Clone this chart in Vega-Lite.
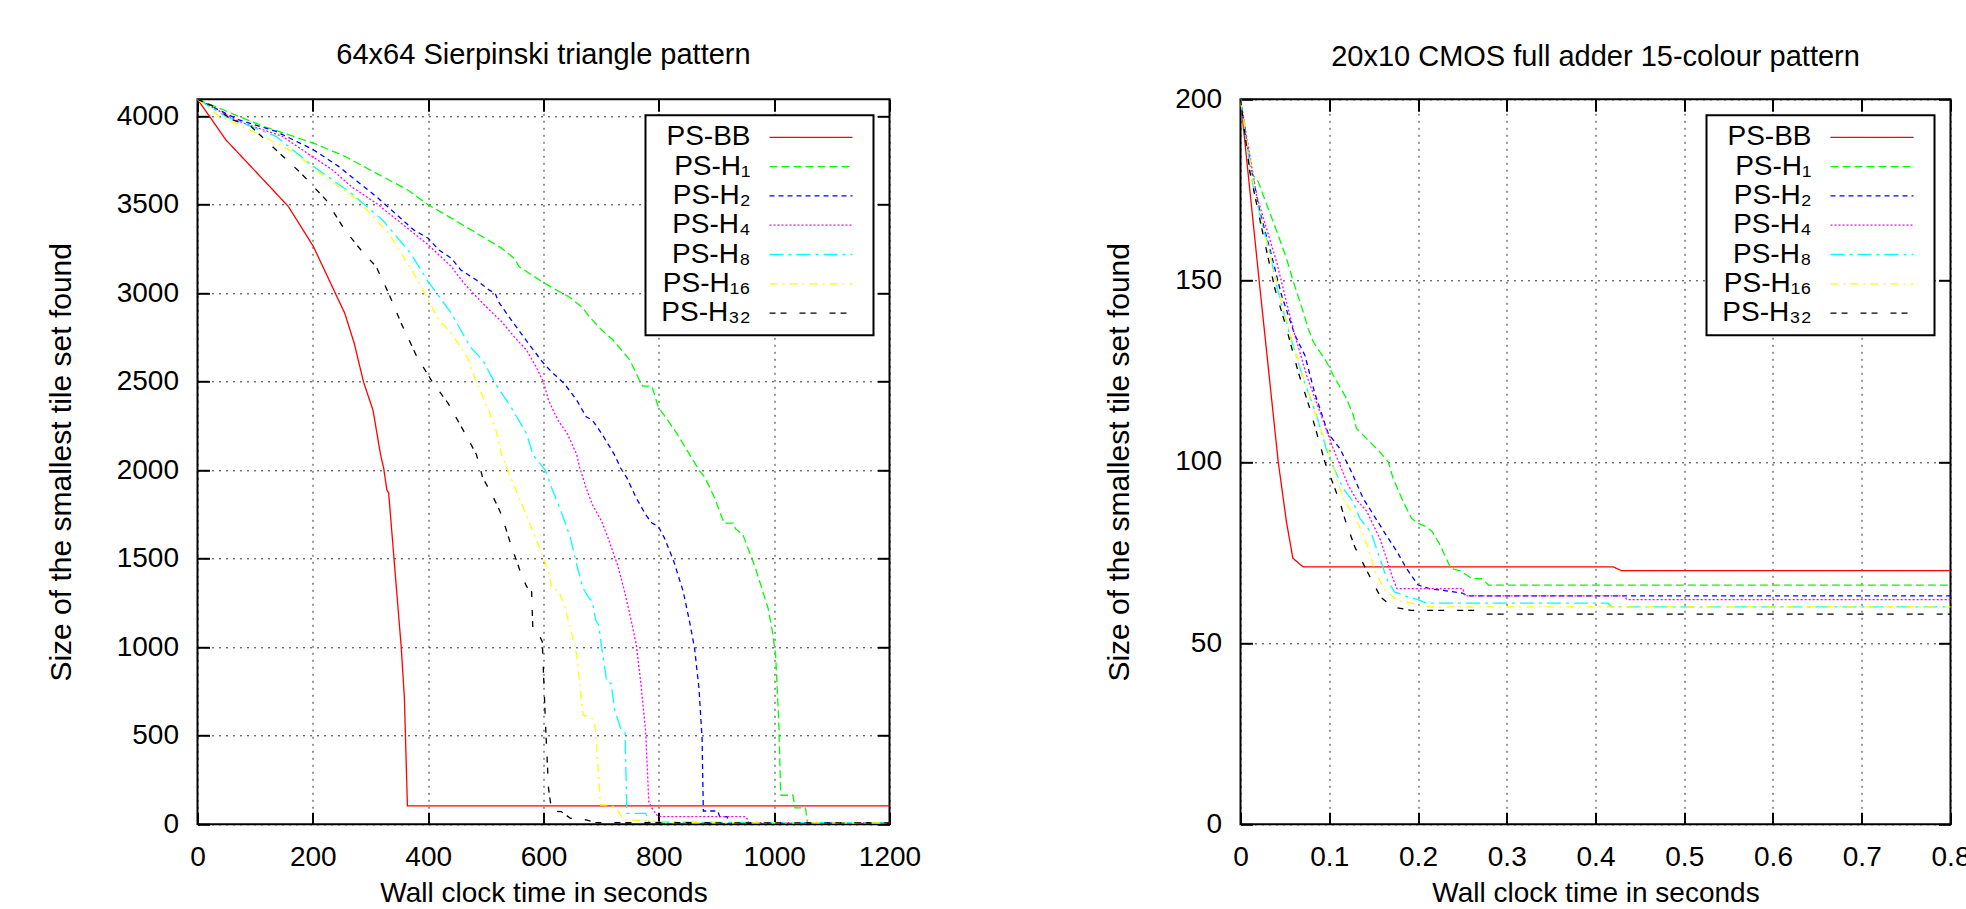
{
  "$schema": "https://vega.github.io/schema/vega-lite/v6.json",
  "autosize": {"type": "none"},
  "padding": {"left": 197.5, "top": 99.3, "right": 1768.5, "bottom": 809.7},
  "background": "white",
  "bounds": "flush",
  "spacing": 351,
  "config": {
    "font": "Liberation Sans",
    "view": {"stroke": "black", "strokeWidth": 2},
    "title": {"fontSize": 29, "fontWeight": "normal", "color": "black", "offset": 27, "anchor": "middle", "font": "Liberation Sans"},
    "axis": {
      "labelFont": "Liberation Sans", "labelFontSize": 28, "labelColor": "black",
      "titleFont": "Liberation Sans", "titleFontSize": 28, "titleFontWeight": "normal", "titleColor": "black",
      "tickColor": "black", "tickWidth": 2, "tickSize": -12, "labelPadding": 31,
      "domain": false,
      "gridColor": "black", "gridDash": [2, 5], "gridWidth": 1, "gridOpacity": 0.8,
      "labelFlush": false, "labelOverlap": false
    },
    "legend": {
      "orient": "top-right", "offset": 16, "title": null,
      "fillColor": "white", "strokeColor": "black", "strokeWidth": 2,
      "padding": 8, "labelAlign": "right", "labelOffset": -74.5, "symbolOffset": 143.5,
      "symbolType": "M-4,0H4M5,0", "symbolSize": 430, "symbolStrokeWidth": 2,
      "rowPadding": 1.3,
      "labelFont": "Liberation Sans", "labelFontSize": 28, "labelColor": "black", "labelLimit": 300
    },
    "line": {"strokeWidth": 1.3}
  },
  "resolve": {
    "scale": {"color": "independent", "strokeDash": "independent"},
    "legend": {"color": "independent", "strokeDash": "independent"}
  },
  "datasets": {
    "left": [
      {"s": "PS-BB", "t": 0, "v": 4096}, {"s": "PS-BB", "t": 24, "v": 3985}, {"s": "PS-BB", "t": 48.9, "v": 3868}, {"s": "PS-BB", "t": 92.4, "v": 3717}, {"s": "PS-BB", "t": 125, "v": 3604}, {"s": "PS-BB", "t": 157.6, "v": 3490}, {"s": "PS-BB", "t": 179.4, "v": 3377}, {"s": "PS-BB", "t": 201, "v": 3264}, {"s": "PS-BB", "t": 222.8, "v": 3113}, {"s": "PS-BB", "t": 239, "v": 3000}, {"s": "PS-BB", "t": 255.4, "v": 2887}, {"s": "PS-BB", "t": 271.8, "v": 2717}, {"s": "PS-BB", "t": 288, "v": 2498}, {"s": "PS-BB", "t": 304.4, "v": 2339}, {"s": "PS-BB", "t": 317.4, "v": 2089}, {"s": "PS-BB", "t": 322.8, "v": 2013}, {"s": "PS-BB", "t": 328.3, "v": 1890}, {"s": "PS-BB", "t": 331.5, "v": 1872}, {"s": "PS-BB", "t": 340.2, "v": 1523}, {"s": "PS-BB", "t": 353.3, "v": 1000}, {"s": "PS-BB", "t": 358.8, "v": 711}, {"s": "PS-BB", "t": 364, "v": 104}, {"s": "PS-BB", "t": 1200, "v": 104},
      {"s": "PS-H₁", "t": 0, "v": 4096}, {"s": "PS-H₁", "t": 114, "v": 3943}, {"s": "PS-H₁", "t": 201, "v": 3849}, {"s": "PS-H₁", "t": 255.4, "v": 3774}, {"s": "PS-H₁", "t": 309.8, "v": 3679}, {"s": "PS-H₁", "t": 364, "v": 3585}, {"s": "PS-H₁", "t": 400, "v": 3500}, {"s": "PS-H₁", "t": 440.2, "v": 3425}, {"s": "PS-H₁", "t": 483.7, "v": 3340}, {"s": "PS-H₁", "t": 527.2, "v": 3255}, {"s": "PS-H₁", "t": 549, "v": 3198}, {"s": "PS-H₁", "t": 557.6, "v": 3151}, {"s": "PS-H₁", "t": 600, "v": 3060}, {"s": "PS-H₁", "t": 614, "v": 3034}, {"s": "PS-H₁", "t": 646.8, "v": 2975}, {"s": "PS-H₁", "t": 668.5, "v": 2915}, {"s": "PS-H₁", "t": 679.4, "v": 2868}, {"s": "PS-H₁", "t": 701, "v": 2792}, {"s": "PS-H₁", "t": 720.7, "v": 2736}, {"s": "PS-H₁", "t": 750, "v": 2622}, {"s": "PS-H₁", "t": 766.3, "v": 2509}, {"s": "PS-H₁", "t": 771.8, "v": 2475}, {"s": "PS-H₁", "t": 788, "v": 2475}, {"s": "PS-H₁", "t": 799, "v": 2358}, {"s": "PS-H₁", "t": 815.3, "v": 2283}, {"s": "PS-H₁", "t": 831.6, "v": 2207}, {"s": "PS-H₁", "t": 853.3, "v": 2089}, {"s": "PS-H₁", "t": 864, "v": 2032}, {"s": "PS-H₁", "t": 869.6, "v": 2000}, {"s": "PS-H₁", "t": 880.5, "v": 1957}, {"s": "PS-H₁", "t": 896.8, "v": 1843}, {"s": "PS-H₁", "t": 913, "v": 1702}, {"s": "PS-H₁", "t": 929.5, "v": 1702}, {"s": "PS-H₁", "t": 932.8, "v": 1670}, {"s": "PS-H₁", "t": 945.8, "v": 1636}, {"s": "PS-H₁", "t": 956.7, "v": 1541}, {"s": "PS-H₁", "t": 967.6, "v": 1447}, {"s": "PS-H₁", "t": 978.5, "v": 1334}, {"s": "PS-H₁", "t": 989.4, "v": 1221}, {"s": "PS-H₁", "t": 997, "v": 1089}, {"s": "PS-H₁", "t": 1002.5, "v": 957}, {"s": "PS-H₁", "t": 1008, "v": 579}, {"s": "PS-H₁", "t": 1011, "v": 202}, {"s": "PS-H₁", "t": 1012, "v": 164}, {"s": "PS-H₁", "t": 1032.6, "v": 164}, {"s": "PS-H₁", "t": 1036, "v": 93}, {"s": "PS-H₁", "t": 1054.4, "v": 93}, {"s": "PS-H₁", "t": 1057.6, "v": 9}, {"s": "PS-H₁", "t": 1200, "v": 9},
      {"s": "PS-H₂", "t": 0, "v": 4096}, {"s": "PS-H₂", "t": 70.7, "v": 3981}, {"s": "PS-H₂", "t": 135.9, "v": 3915}, {"s": "PS-H₂", "t": 201, "v": 3811}, {"s": "PS-H₂", "t": 244.6, "v": 3717}, {"s": "PS-H₂", "t": 277.2, "v": 3632}, {"s": "PS-H₂", "t": 309.8, "v": 3547}, {"s": "PS-H₂", "t": 342.4, "v": 3453}, {"s": "PS-H₂", "t": 375, "v": 3358}, {"s": "PS-H₂", "t": 400, "v": 3311}, {"s": "PS-H₂", "t": 418.5, "v": 3245}, {"s": "PS-H₂", "t": 440.2, "v": 3198}, {"s": "PS-H₂", "t": 456.5, "v": 3132}, {"s": "PS-H₂", "t": 483.7, "v": 3075}, {"s": "PS-H₂", "t": 505.5, "v": 3019}, {"s": "PS-H₂", "t": 516.3, "v": 3000}, {"s": "PS-H₂", "t": 521.8, "v": 2953}, {"s": "PS-H₂", "t": 538, "v": 2877}, {"s": "PS-H₂", "t": 565.2, "v": 2755}, {"s": "PS-H₂", "t": 597.9, "v": 2613}, {"s": "PS-H₂", "t": 614, "v": 2556}, {"s": "PS-H₂", "t": 636, "v": 2490}, {"s": "PS-H₂", "t": 657.6, "v": 2396}, {"s": "PS-H₂", "t": 674, "v": 2302}, {"s": "PS-H₂", "t": 684.8, "v": 2283}, {"s": "PS-H₂", "t": 701, "v": 2207}, {"s": "PS-H₂", "t": 722.9, "v": 2089}, {"s": "PS-H₂", "t": 733.7, "v": 2013}, {"s": "PS-H₂", "t": 744.6, "v": 1957}, {"s": "PS-H₂", "t": 760.9, "v": 1843}, {"s": "PS-H₂", "t": 777.2, "v": 1749}, {"s": "PS-H₂", "t": 788, "v": 1702}, {"s": "PS-H₂", "t": 799, "v": 1683}, {"s": "PS-H₂", "t": 809.8, "v": 1617}, {"s": "PS-H₂", "t": 826, "v": 1485}, {"s": "PS-H₂", "t": 842.3, "v": 1315}, {"s": "PS-H₂", "t": 853.3, "v": 1145}, {"s": "PS-H₂", "t": 862, "v": 994}, {"s": "PS-H₂", "t": 869.6, "v": 768}, {"s": "PS-H₂", "t": 875, "v": 485}, {"s": "PS-H₂", "t": 877.2, "v": 75}, {"s": "PS-H₂", "t": 902.2, "v": 75}, {"s": "PS-H₂", "t": 905.5, "v": 43}, {"s": "PS-H₂", "t": 918.5, "v": 43}, {"s": "PS-H₂", "t": 920.7, "v": 8}, {"s": "PS-H₂", "t": 1200, "v": 8},
      {"s": "PS-H₄", "t": 0, "v": 4096}, {"s": "PS-H₄", "t": 70.7, "v": 3972}, {"s": "PS-H₄", "t": 146.7, "v": 3887}, {"s": "PS-H₄", "t": 190.2, "v": 3792}, {"s": "PS-H₄", "t": 233.7, "v": 3698}, {"s": "PS-H₄", "t": 266.3, "v": 3604}, {"s": "PS-H₄", "t": 309.8, "v": 3509}, {"s": "PS-H₄", "t": 353.3, "v": 3396}, {"s": "PS-H₄", "t": 400, "v": 3274}, {"s": "PS-H₄", "t": 440.2, "v": 3151}, {"s": "PS-H₄", "t": 462, "v": 3057}, {"s": "PS-H₄", "t": 494.6, "v": 2943}, {"s": "PS-H₄", "t": 527.2, "v": 2840}, {"s": "PS-H₄", "t": 549, "v": 2755}, {"s": "PS-H₄", "t": 570.7, "v": 2679}, {"s": "PS-H₄", "t": 587, "v": 2585}, {"s": "PS-H₄", "t": 600, "v": 2498}, {"s": "PS-H₄", "t": 608.7, "v": 2396}, {"s": "PS-H₄", "t": 625, "v": 2283}, {"s": "PS-H₄", "t": 641.3, "v": 2207}, {"s": "PS-H₄", "t": 657.6, "v": 2089}, {"s": "PS-H₄", "t": 663, "v": 2013}, {"s": "PS-H₄", "t": 674, "v": 1900}, {"s": "PS-H₄", "t": 684.8, "v": 1806}, {"s": "PS-H₄", "t": 701, "v": 1711}, {"s": "PS-H₄", "t": 712, "v": 1617}, {"s": "PS-H₄", "t": 728.3, "v": 1466}, {"s": "PS-H₄", "t": 739.2, "v": 1334}, {"s": "PS-H₄", "t": 750, "v": 1183}, {"s": "PS-H₄", "t": 761, "v": 1013}, {"s": "PS-H₄", "t": 768.5, "v": 806}, {"s": "PS-H₄", "t": 777.2, "v": 522}, {"s": "PS-H₄", "t": 782.6, "v": 128}, {"s": "PS-H₄", "t": 788, "v": 91}, {"s": "PS-H₄", "t": 799, "v": 43}, {"s": "PS-H₄", "t": 951.1, "v": 43}, {"s": "PS-H₄", "t": 956.5, "v": 9}, {"s": "PS-H₄", "t": 1200, "v": 9},
      {"s": "PS-H₈", "t": 0, "v": 4096}, {"s": "PS-H₈", "t": 48.9, "v": 4000}, {"s": "PS-H₈", "t": 135.9, "v": 3887}, {"s": "PS-H₈", "t": 201, "v": 3717}, {"s": "PS-H₈", "t": 266.3, "v": 3566}, {"s": "PS-H₈", "t": 320.7, "v": 3415}, {"s": "PS-H₈", "t": 369.6, "v": 3226}, {"s": "PS-H₈", "t": 400, "v": 3066}, {"s": "PS-H₈", "t": 440.2, "v": 2887}, {"s": "PS-H₈", "t": 472.8, "v": 2698}, {"s": "PS-H₈", "t": 494.6, "v": 2622}, {"s": "PS-H₈", "t": 516.3, "v": 2490}, {"s": "PS-H₈", "t": 543.5, "v": 2358}, {"s": "PS-H₈", "t": 570.7, "v": 2207}, {"s": "PS-H₈", "t": 581.5, "v": 2089}, {"s": "PS-H₈", "t": 603.3, "v": 2000}, {"s": "PS-H₈", "t": 614.2, "v": 1900}, {"s": "PS-H₈", "t": 630.5, "v": 1768}, {"s": "PS-H₈", "t": 646.8, "v": 1617}, {"s": "PS-H₈", "t": 657.6, "v": 1466}, {"s": "PS-H₈", "t": 668.5, "v": 1334}, {"s": "PS-H₈", "t": 679.4, "v": 1277}, {"s": "PS-H₈", "t": 684.8, "v": 1258}, {"s": "PS-H₈", "t": 690.2, "v": 1155}, {"s": "PS-H₈", "t": 695.7, "v": 1126}, {"s": "PS-H₈", "t": 701, "v": 994}, {"s": "PS-H₈", "t": 709.8, "v": 806}, {"s": "PS-H₈", "t": 717.4, "v": 796}, {"s": "PS-H₈", "t": 722.9, "v": 655}, {"s": "PS-H₈", "t": 733.7, "v": 541}, {"s": "PS-H₈", "t": 741.3, "v": 522}, {"s": "PS-H₈", "t": 744.6, "v": 62}, {"s": "PS-H₈", "t": 777.2, "v": 62}, {"s": "PS-H₈", "t": 782.6, "v": 12}, {"s": "PS-H₈", "t": 1200, "v": 8},
      {"s": "PS-H₁₆", "t": 0, "v": 4096}, {"s": "PS-H₁₆", "t": 38, "v": 4000}, {"s": "PS-H₁₆", "t": 114.1, "v": 3887}, {"s": "PS-H₁₆", "t": 168.5, "v": 3792}, {"s": "PS-H₁₆", "t": 212, "v": 3679}, {"s": "PS-H₁₆", "t": 277.2, "v": 3528}, {"s": "PS-H₁₆", "t": 331.5, "v": 3340}, {"s": "PS-H₁₆", "t": 375, "v": 3113}, {"s": "PS-H₁₆", "t": 400, "v": 2962}, {"s": "PS-H₁₆", "t": 418.5, "v": 2849}, {"s": "PS-H₁₆", "t": 440.2, "v": 2773}, {"s": "PS-H₁₆", "t": 467.4, "v": 2641}, {"s": "PS-H₁₆", "t": 483.7, "v": 2498}, {"s": "PS-H₁₆", "t": 500, "v": 2377}, {"s": "PS-H₁₆", "t": 516.3, "v": 2245}, {"s": "PS-H₁₆", "t": 527.2, "v": 2089}, {"s": "PS-H₁₆", "t": 543.5, "v": 1957}, {"s": "PS-H₁₆", "t": 565.2, "v": 1787}, {"s": "PS-H₁₆", "t": 581.5, "v": 1655}, {"s": "PS-H₁₆", "t": 597.9, "v": 1523}, {"s": "PS-H₁₆", "t": 608.7, "v": 1428}, {"s": "PS-H₁₆", "t": 614.2, "v": 1334}, {"s": "PS-H₁₆", "t": 625, "v": 1324}, {"s": "PS-H₁₆", "t": 635.9, "v": 1240}, {"s": "PS-H₁₆", "t": 646.8, "v": 1107}, {"s": "PS-H₁₆", "t": 657.6, "v": 957}, {"s": "PS-H₁₆", "t": 668.5, "v": 617}, {"s": "PS-H₁₆", "t": 684.8, "v": 598}, {"s": "PS-H₁₆", "t": 690.2, "v": 541}, {"s": "PS-H₁₆", "t": 698.9, "v": 109}, {"s": "PS-H₁₆", "t": 717.4, "v": 109}, {"s": "PS-H₁₆", "t": 728.3, "v": 81}, {"s": "PS-H₁₆", "t": 739.2, "v": 25}, {"s": "PS-H₁₆", "t": 788, "v": 19}, {"s": "PS-H₁₆", "t": 799, "v": 9}, {"s": "PS-H₁₆", "t": 1200, "v": 8},
      {"s": "PS-H₃₂", "t": 0, "v": 4096}, {"s": "PS-H₃₂", "t": 27.2, "v": 4057}, {"s": "PS-H₃₂", "t": 59.8, "v": 3981}, {"s": "PS-H₃₂", "t": 92.4, "v": 3943}, {"s": "PS-H₃₂", "t": 135.9, "v": 3811}, {"s": "PS-H₃₂", "t": 179.4, "v": 3679}, {"s": "PS-H₃₂", "t": 222.8, "v": 3528}, {"s": "PS-H₃₂", "t": 255.4, "v": 3358}, {"s": "PS-H₃₂", "t": 288, "v": 3226}, {"s": "PS-H₃₂", "t": 309.8, "v": 3151}, {"s": "PS-H₃₂", "t": 331.5, "v": 3000}, {"s": "PS-H₃₂", "t": 353.3, "v": 2830}, {"s": "PS-H₃₂", "t": 380.5, "v": 2641}, {"s": "PS-H₃₂", "t": 407.6, "v": 2498}, {"s": "PS-H₃₂", "t": 434.8, "v": 2377}, {"s": "PS-H₃₂", "t": 467.4, "v": 2188}, {"s": "PS-H₃₂", "t": 483.7, "v": 2089}, {"s": "PS-H₃₂", "t": 494.6, "v": 1957}, {"s": "PS-H₃₂", "t": 510.9, "v": 1862}, {"s": "PS-H₃₂", "t": 527.2, "v": 1749}, {"s": "PS-H₃₂", "t": 543.5, "v": 1579}, {"s": "PS-H₃₂", "t": 559.8, "v": 1428}, {"s": "PS-H₃₂", "t": 570.7, "v": 1343}, {"s": "PS-H₃₂", "t": 579.4, "v": 1315}, {"s": "PS-H₃₂", "t": 581.5, "v": 1107}, {"s": "PS-H₃₂", "t": 592.4, "v": 1070}, {"s": "PS-H₃₂", "t": 597.9, "v": 1032}, {"s": "PS-H₃₂", "t": 603.3, "v": 579}, {"s": "PS-H₃₂", "t": 608.7, "v": 204}, {"s": "PS-H₃₂", "t": 614.2, "v": 75}, {"s": "PS-H₃₂", "t": 630.5, "v": 72}, {"s": "PS-H₃₂", "t": 646.8, "v": 34}, {"s": "PS-H₃₂", "t": 674, "v": 25}, {"s": "PS-H₃₂", "t": 690.2, "v": 9}, {"s": "PS-H₃₂", "t": 1200, "v": 8}
    ],
    "right": [
      {"s": "PS-BB", "t": 0, "v": 200}, {"s": "PS-BB", "t": 0.021, "v": 150}, {"s": "PS-BB", "t": 0.0425, "v": 100}, {"s": "PS-BB", "t": 0.0518, "v": 83.4}, {"s": "PS-BB", "t": 0.059, "v": 73.4}, {"s": "PS-BB", "t": 0.0706, "v": 71}, {"s": "PS-BB", "t": 0.42, "v": 71}, {"s": "PS-BB", "t": 0.429, "v": 70}, {"s": "PS-BB", "t": 0.8, "v": 70},
      {"s": "PS-H₁", "t": 0, "v": 200}, {"s": "PS-H₁", "t": 0.0124, "v": 179.6}, {"s": "PS-H₁", "t": 0.0199, "v": 177.3}, {"s": "PS-H₁", "t": 0.0312, "v": 169.9}, {"s": "PS-H₁", "t": 0.0425, "v": 162.5}, {"s": "PS-H₁", "t": 0.0518, "v": 156.1}, {"s": "PS-H₁", "t": 0.0593, "v": 149.9}, {"s": "PS-H₁", "t": 0.0706, "v": 141.4}, {"s": "PS-H₁", "t": 0.0762, "v": 136.8}, {"s": "PS-H₁", "t": 0.0819, "v": 133.1}, {"s": "PS-H₁", "t": 0.0969, "v": 127.6}, {"s": "PS-H₁", "t": 0.1044, "v": 123.9}, {"s": "PS-H₁", "t": 0.1194, "v": 117.5}, {"s": "PS-H₁", "t": 0.127, "v": 112.9}, {"s": "PS-H₁", "t": 0.1307, "v": 109.2}, {"s": "PS-H₁", "t": 0.1457, "v": 105.5}, {"s": "PS-H₁", "t": 0.157, "v": 102.7}, {"s": "PS-H₁", "t": 0.1664, "v": 100}, {"s": "PS-H₁", "t": 0.172, "v": 95.4}, {"s": "PS-H₁", "t": 0.1833, "v": 89}, {"s": "PS-H₁", "t": 0.1927, "v": 84.4}, {"s": "PS-H₁", "t": 0.2002, "v": 83}, {"s": "PS-H₁", "t": 0.2096, "v": 82.1}, {"s": "PS-H₁", "t": 0.216, "v": 80.7}, {"s": "PS-H₁", "t": 0.2239, "v": 77.5}, {"s": "PS-H₁", "t": 0.237, "v": 70.6}, {"s": "PS-H₁", "t": 0.2477, "v": 69.9}, {"s": "PS-H₁", "t": 0.2608, "v": 67.8}, {"s": "PS-H₁", "t": 0.2715, "v": 67.8}, {"s": "PS-H₁", "t": 0.2795, "v": 66}, {"s": "PS-H₁", "t": 0.8, "v": 66},
      {"s": "PS-H₂", "t": 0, "v": 200}, {"s": "PS-H₂", "t": 0.0105, "v": 182.8}, {"s": "PS-H₂", "t": 0.0218, "v": 169}, {"s": "PS-H₂", "t": 0.0349, "v": 157}, {"s": "PS-H₂", "t": 0.0462, "v": 146}, {"s": "PS-H₂", "t": 0.0612, "v": 135}, {"s": "PS-H₂", "t": 0.0725, "v": 129.4}, {"s": "PS-H₂", "t": 0.0837, "v": 118.9}, {"s": "PS-H₂", "t": 0.0988, "v": 107.8}, {"s": "PS-H₂", "t": 0.1119, "v": 103.7}, {"s": "PS-H₂", "t": 0.1251, "v": 97.2}, {"s": "PS-H₂", "t": 0.1382, "v": 89.9}, {"s": "PS-H₂", "t": 0.147, "v": 86.5}, {"s": "PS-H₂", "t": 0.163, "v": 80.2}, {"s": "PS-H₂", "t": 0.1763, "v": 75.2}, {"s": "PS-H₂", "t": 0.187, "v": 70.6}, {"s": "PS-H₂", "t": 0.2, "v": 66}, {"s": "PS-H₂", "t": 0.213, "v": 65}, {"s": "PS-H₂", "t": 0.25, "v": 63.8}, {"s": "PS-H₂", "t": 0.2557, "v": 63}, {"s": "PS-H₂", "t": 0.8, "v": 63},
      {"s": "PS-H₄", "t": 0, "v": 200}, {"s": "PS-H₄", "t": 0.018, "v": 173.6}, {"s": "PS-H₄", "t": 0.0406, "v": 155.2}, {"s": "PS-H₄", "t": 0.0518, "v": 144.1}, {"s": "PS-H₄", "t": 0.0612, "v": 135}, {"s": "PS-H₄", "t": 0.0744, "v": 123.9}, {"s": "PS-H₄", "t": 0.0894, "v": 113.8}, {"s": "PS-H₄", "t": 0.1044, "v": 103.7}, {"s": "PS-H₄", "t": 0.1213, "v": 93.6}, {"s": "PS-H₄", "t": 0.131, "v": 89.4}, {"s": "PS-H₄", "t": 0.142, "v": 86.5}, {"s": "PS-H₄", "t": 0.1578, "v": 78.4}, {"s": "PS-H₄", "t": 0.171, "v": 68.3}, {"s": "PS-H₄", "t": 0.1763, "v": 65}, {"s": "PS-H₄", "t": 0.2505, "v": 65}, {"s": "PS-H₄", "t": 0.2533, "v": 63}, {"s": "PS-H₄", "t": 0.4327, "v": 63}, {"s": "PS-H₄", "t": 0.4355, "v": 62}, {"s": "PS-H₄", "t": 0.8, "v": 62},
      {"s": "PS-H₈", "t": 0, "v": 200}, {"s": "PS-H₈", "t": 0.0124, "v": 178.2}, {"s": "PS-H₈", "t": 0.0237, "v": 166.2}, {"s": "PS-H₈", "t": 0.033, "v": 157.9}, {"s": "PS-H₈", "t": 0.0406, "v": 148.7}, {"s": "PS-H₈", "t": 0.0556, "v": 135}, {"s": "PS-H₈", "t": 0.0706, "v": 123}, {"s": "PS-H₈", "t": 0.0856, "v": 112.9}, {"s": "PS-H₈", "t": 0.0988, "v": 101.8}, {"s": "PS-H₈", "t": 0.1157, "v": 92.6}, {"s": "PS-H₈", "t": 0.126, "v": 89.4}, {"s": "PS-H₈", "t": 0.1345, "v": 84.4}, {"s": "PS-H₈", "t": 0.147, "v": 80.5}, {"s": "PS-H₈", "t": 0.1656, "v": 67.3}, {"s": "PS-H₈", "t": 0.1735, "v": 64.1}, {"s": "PS-H₈", "t": 0.1895, "v": 62.7}, {"s": "PS-H₈", "t": 0.2001, "v": 62}, {"s": "PS-H₈", "t": 0.2096, "v": 61}, {"s": "PS-H₈", "t": 0.414, "v": 61}, {"s": "PS-H₈", "t": 0.418, "v": 60}, {"s": "PS-H₈", "t": 0.8, "v": 60},
      {"s": "PS-H₁₆", "t": 0, "v": 200}, {"s": "PS-H₁₆", "t": 0.018, "v": 171.7}, {"s": "PS-H₁₆", "t": 0.0368, "v": 153.4}, {"s": "PS-H₁₆", "t": 0.0518, "v": 138.6}, {"s": "PS-H₁₆", "t": 0.0687, "v": 124.8}, {"s": "PS-H₁₆", "t": 0.0837, "v": 113.8}, {"s": "PS-H₁₆", "t": 0.1006, "v": 101.8}, {"s": "PS-H₁₆", "t": 0.1157, "v": 89.9}, {"s": "PS-H₁₆", "t": 0.131, "v": 83.9}, {"s": "PS-H₁₆", "t": 0.142, "v": 77.5}, {"s": "PS-H₁₆", "t": 0.1526, "v": 69.2}, {"s": "PS-H₁₆", "t": 0.163, "v": 64.6}, {"s": "PS-H₁₆", "t": 0.1763, "v": 61.8}, {"s": "PS-H₁₆", "t": 0.1948, "v": 60.9}, {"s": "PS-H₁₆", "t": 0.2054, "v": 60}, {"s": "PS-H₁₆", "t": 0.8, "v": 60},
      {"s": "PS-H₃₂", "t": 0, "v": 200}, {"s": "PS-H₃₂", "t": 0.0105, "v": 180}, {"s": "PS-H₃₂", "t": 0.0256, "v": 162.5}, {"s": "PS-H₃₂", "t": 0.0387, "v": 147.8}, {"s": "PS-H₃₂", "t": 0.0518, "v": 136.8}, {"s": "PS-H₃₂", "t": 0.065, "v": 124.8}, {"s": "PS-H₃₂", "t": 0.0781, "v": 114.7}, {"s": "PS-H₃₂", "t": 0.095, "v": 100}, {"s": "PS-H₃₂", "t": 0.1119, "v": 89}, {"s": "PS-H₃₂", "t": 0.118, "v": 83.9}, {"s": "PS-H₃₂", "t": 0.1288, "v": 76.5}, {"s": "PS-H₃₂", "t": 0.142, "v": 70.1}, {"s": "PS-H₃₂", "t": 0.1578, "v": 62.7}, {"s": "PS-H₃₂", "t": 0.171, "v": 60}, {"s": "PS-H₃₂", "t": 0.192, "v": 59}, {"s": "PS-H₃₂", "t": 0.2636, "v": 59}, {"s": "PS-H₃₂", "t": 0.277, "v": 58}, {"s": "PS-H₃₂", "t": 0.8, "v": 58}
    ]
  },
  "hconcat": [
    {
      "width": 692, "height": 725,
      "title": {"text": "64x64 Sierpinski triangle pattern", "offset": 27},
      "data": {"name": "left"},
      "resolve": {"axis": {"x": "independent", "y": "independent"}},
      "layer": [
        {
          "mark": {"type": "line", "strokeWidth": 1.3},
          "encoding": {
            "x": {"field": "t", "type": "quantitative", "scale": {"domain": [0, 1200], "nice": false},
                  "axis": {"orient": "bottom", "grid": true, "format": "d", "values": [0, 200, 400, 600, 800, 1000, 1200], "title": "Wall clock time in seconds", "titlePadding": 8}},
            "y": {"field": "v", "type": "quantitative", "scale": {"domain": [0, 4096], "nice": false},
                  "axis": {"orient": "left", "grid": true, "format": "d", "values": [0, 500, 1000, 1500, 2000, 2500, 3000, 3500, 4000], "title": "Size of the smallest tile set found", "titleFontSize": 30, "titlePadding": 40}},
            "color": {"field": "s", "type": "nominal",
                      "scale": {"domain": ["PS-BB", "PS-H₁", "PS-H₂", "PS-H₄", "PS-H₈", "PS-H₁₆", "PS-H₃₂"], "range": ["#ff0000", "#00ff00", "#0000ff", "#ff00ff", "#00ffff", "#ffff00", "#000000"]},
                      "legend": {"symbolType": "M-4,0H4M5,0", "symbolSize": 430, "symbolStrokeWidth": 2, "symbolOffset": 143.5, "labelOffset": -74.5, "labelAlign": "right", "rowPadding": 1.3, "padding": 8}},
            "strokeDash": {"field": "s", "type": "nominal",
                      "scale": {"domain": ["PS-BB", "PS-H₁", "PS-H₂", "PS-H₄", "PS-H₈", "PS-H₁₆", "PS-H₃₂"], "range": [[1, 0], [8, 4], [5, 4], [2, 2], [14, 5, 3, 5], [8, 5, 2, 5], [6, 5, 6, 13]]},
                      "legend": {"symbolType": "M-4,0H4M5,0", "symbolSize": 430, "symbolStrokeWidth": 2, "symbolOffset": 143.5, "labelOffset": -74.5, "labelAlign": "right", "rowPadding": 1.3, "padding": 8}}
          }
        },
        {
          "mark": {"type": "point", "opacity": 0},
          "encoding": {
            "x": {"field": "t", "type": "quantitative", "axis": {"orient": "top", "labels": false, "grid": false, "title": null, "values": [0, 200, 400, 600, 800, 1000, 1200]}},
            "y": {"field": "v", "type": "quantitative", "axis": {"orient": "right", "labels": false, "grid": false, "title": null, "values": [0, 500, 1000, 1500, 2000, 2500, 3000, 3500, 4000]}}
          }
        }
      ]
    },
    {
      "width": 710, "height": 725,
      "title": {"text": "20x10 CMOS full adder 15-colour pattern", "offset": 13},
      "data": {"name": "right"},
      "resolve": {"axis": {"x": "independent", "y": "independent"}},
      "layer": [
        {
          "mark": {"type": "line", "strokeWidth": 1.3},
          "encoding": {
            "x": {"field": "t", "type": "quantitative", "scale": {"domain": [0, 0.8], "nice": false},
                  "axis": {"orient": "bottom", "grid": true, "values": [0, 0.1, 0.2, 0.3, 0.4, 0.5, 0.6, 0.7, 0.8], "format": ".1~f", "title": "Wall clock time in seconds", "titlePadding": 8}},
            "y": {"field": "v", "type": "quantitative", "scale": {"domain": [0, 200], "nice": false},
                  "axis": {"orient": "left", "grid": true, "format": "d", "values": [0, 50, 100, 150, 200], "title": "Size of the smallest tile set found", "titleFontSize": 30, "titlePadding": 40}},
            "color": {"field": "s", "type": "nominal",
                      "scale": {"domain": ["PS-BB", "PS-H₁", "PS-H₂", "PS-H₄", "PS-H₈", "PS-H₁₆", "PS-H₃₂"], "range": ["#ff0000", "#00ff00", "#0000ff", "#ff00ff", "#00ffff", "#ffff00", "#000000"]},
                      "legend": {"symbolType": "M-4,0H4M5,0", "symbolSize": 430, "symbolStrokeWidth": 2, "symbolOffset": 143.5, "labelOffset": -74.5, "labelAlign": "right", "rowPadding": 1.3, "padding": 8}},
            "strokeDash": {"field": "s", "type": "nominal",
                      "scale": {"domain": ["PS-BB", "PS-H₁", "PS-H₂", "PS-H₄", "PS-H₈", "PS-H₁₆", "PS-H₃₂"], "range": [[1, 0], [8, 4], [5, 4], [2, 2], [14, 5, 3, 5], [8, 5, 2, 5], [6, 5, 6, 13]]},
                      "legend": {"symbolType": "M-4,0H4M5,0", "symbolSize": 430, "symbolStrokeWidth": 2, "symbolOffset": 143.5, "labelOffset": -74.5, "labelAlign": "right", "rowPadding": 1.3, "padding": 8}}
          }
        },
        {
          "mark": {"type": "point", "opacity": 0},
          "encoding": {
            "x": {"field": "t", "type": "quantitative", "axis": {"orient": "top", "labels": false, "grid": false, "title": null, "values": [0, 0.1, 0.2, 0.3, 0.4, 0.5, 0.6, 0.7, 0.8]}},
            "y": {"field": "v", "type": "quantitative", "axis": {"orient": "right", "labels": false, "grid": false, "title": null, "values": [0, 50, 100, 150, 200]}}
          }
        }
      ]
    }
  ]
}
